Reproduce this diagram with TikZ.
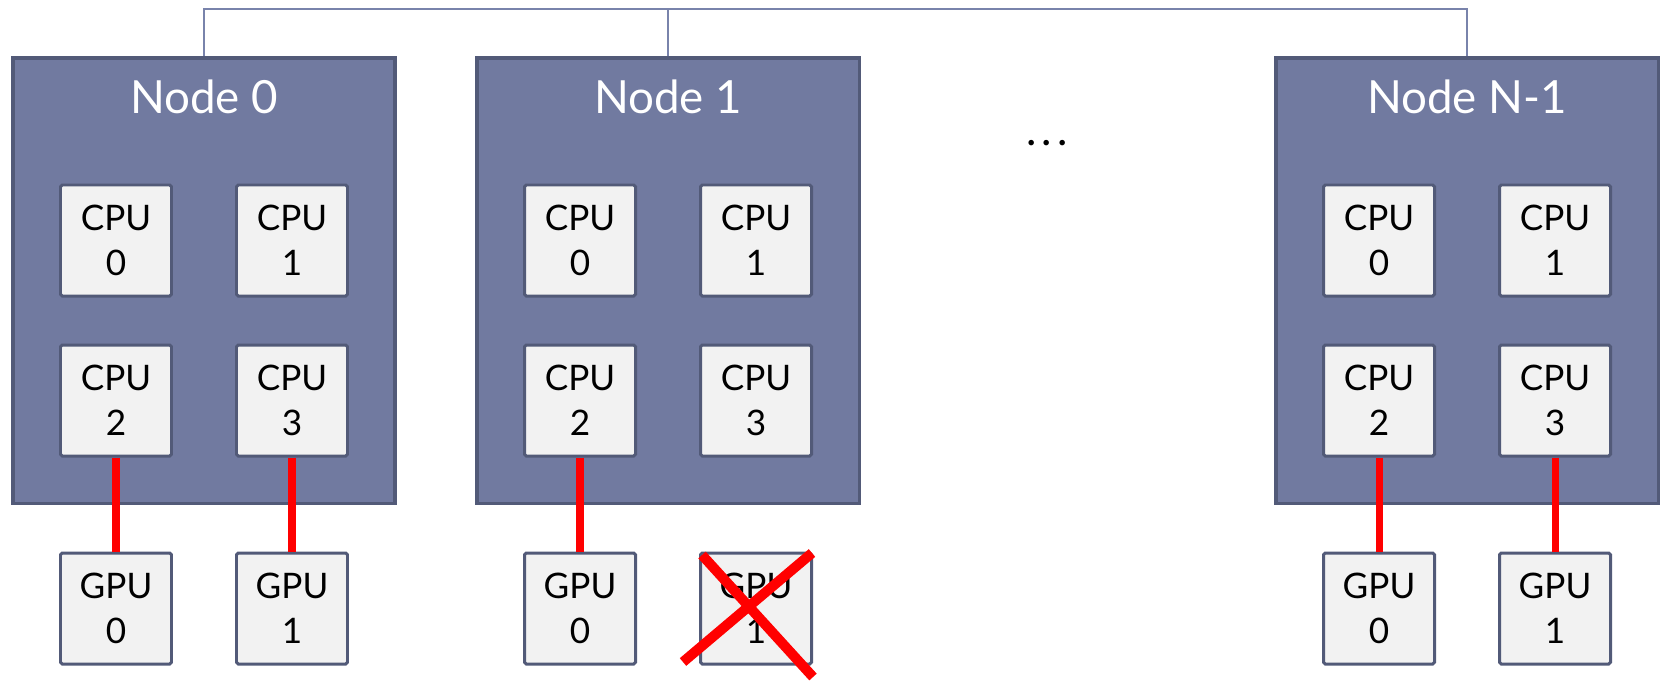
\documentclass[tikz,border=0pt]{standalone}
\usepackage{fontspec}
\setmainfont{Lato}
\usetikzlibrary{calc}

\definecolor{nodefill}{RGB}{113,122,160}
\definecolor{nodeedge}{RGB}{82,90,120}
\definecolor{busline}{RGB}{121,131,171}
\definecolor{chipfill}{RGB}{242,242,242}
\definecolor{linkred}{RGB}{255,0,0}

\begin{document}
\begin{tikzpicture}[
  x=1cm,
  y=1cm,
  hostbox/.style={draw=nodeedge,fill=nodefill,line width=2pt,minimum width=7.65cm,minimum height=8.91cm},
  title/.style={anchor=base,text=white,font=\fontsize{26}{31}\selectfont},
  chip/.style={draw=nodeedge,fill=chipfill,line width=1.7pt,rounded corners=1pt,minimum width=2.22cm,minimum height=2.22cm,inner sep=0pt,align=center,font=\fontsize{20}{25.5}\selectfont},
  bus/.style={draw=busline,line width=1.1pt},
  link/.style={draw=linkred,line width=4pt},
  cross/.style={draw=linkred,line width=5.7pt}
]
\useasboundingbox (0,0) rectangle (33.2,-13.62);

% Compute nodes
\node[hostbox] (host0) at (4.08,-5.61) {};
\node[hostbox] (host1) at (13.36,-5.61) {};
\node[hostbox] (hostN) at (29.34,-5.61) {};
\node[title] (title0) at (4.08,-2.26) {Node 0};
\node[title] (title1) at (13.36,-2.26) {Node 1};
\node[title] (titleN) at (29.34,-2.26) {Node N-1};
\node[anchor=base,font=\fontsize{25}{30}\selectfont] (dots) at (20.94,-2.9) {.\hspace{0.12em}.\hspace{0.12em}.};

% Network bus
\coordinate (busL) at (4.08,-0.18);
\coordinate (busR) at (29.34,-0.18);
\draw[bus] (host0.north) -- (busL) -- (busR) -- (hostN.north);
\draw[bus] (host1.north) -- (host1.north |- busL);

% Node 0
\node[chip] (cpu00) at (2.32,-4.81) {CPU\\0};
\node[chip] (cpu01) at (5.84,-4.81) {CPU\\1};
\node[chip] (cpu02) at (2.32,-8.01) {CPU\\2};
\node[chip] (cpu03) at (5.84,-8.01) {CPU\\3};
\node[chip] (gpu00) at (2.32,-12.17) {GPU\\0};
\node[chip] (gpu01) at (5.84,-12.17) {GPU\\1};
\draw[link] (cpu02.south) -- (gpu00.north);
\draw[link] (cpu03.south) -- (gpu01.north);

% Node 1
\node[chip] (cpu10) at (11.60,-4.81) {CPU\\0};
\node[chip] (cpu11) at (15.12,-4.81) {CPU\\1};
\node[chip] (cpu12) at (11.60,-8.01) {CPU\\2};
\node[chip] (cpu13) at (15.12,-8.01) {CPU\\3};
\node[chip] (gpu10) at (11.60,-12.17) {GPU\\0};
\node[chip] (gpu11) at (15.12,-12.17) {GPU\\1};
\draw[link] (cpu12.south) -- (gpu10.north);

% Failed GPU
\draw[cross] ($(gpu11.center)+(-1.46,-1.07)$) -- ($(gpu11.center)+(1.12,1.11)$);
\draw[cross] ($(gpu11.center)+(-1.08,1.07)$) -- ($(gpu11.center)+(1.14,-1.37)$);

% Node N-1
\node[chip] (cpuN0) at (27.58,-4.81) {CPU\\0};
\node[chip] (cpuN1) at (31.10,-4.81) {CPU\\1};
\node[chip] (cpuN2) at (27.58,-8.01) {CPU\\2};
\node[chip] (cpuN3) at (31.10,-8.01) {CPU\\3};
\node[chip] (gpuN0) at (27.58,-12.17) {GPU\\0};
\node[chip] (gpuN1) at (31.10,-12.17) {GPU\\1};
\draw[link] (cpuN2.south) -- (gpuN0.north);
\draw[link] (cpuN3.south) -- (gpuN1.north);

\end{tikzpicture}
\end{document}
